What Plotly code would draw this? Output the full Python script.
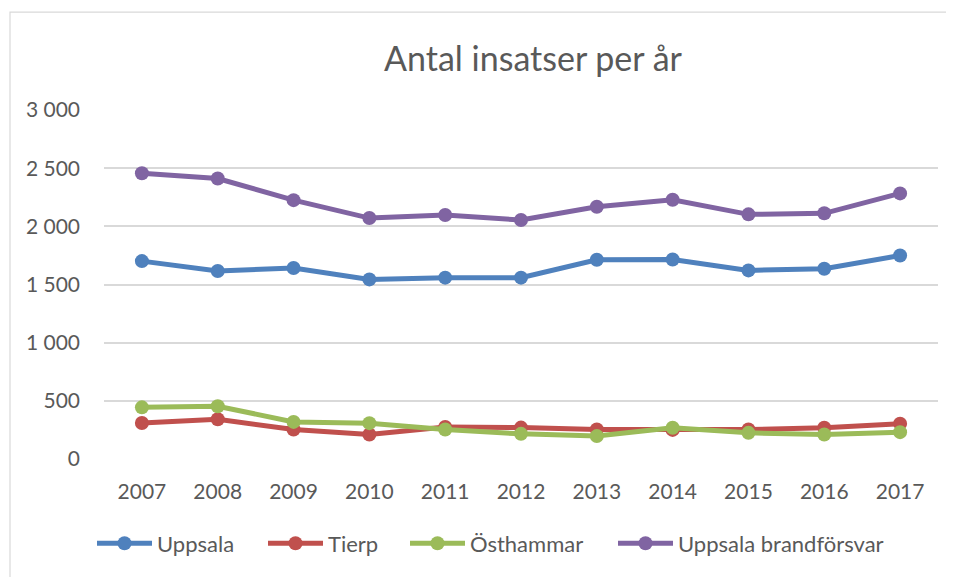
import plotly.graph_objects as go

years = ["2007", "2008", "2009", "2010", "2011", "2012", "2013", "2014", "2015", "2016", "2017"]
uppsala = [1701, 1616, 1642, 1544, 1559, 1559, 1713, 1715, 1621, 1636, 1749]
tierp = [310, 342, 253, 210, 276, 270, 253, 250, 253, 268, 304]
osthammar = [444, 453, 319, 308, 253, 216, 197, 268, 225, 210, 231]
brandforsvar = [2456, 2411, 2225, 2071, 2097, 2054, 2168, 2228, 2103, 2112, 2283]

series_names = ["Uppsala", "Tierp", "Östhammar", "Uppsala brandförsvar"]
series_values = [uppsala, tierp, osthammar, brandforsvar]
colors = ["#4F81BD", "#C0504D", "#9BBB59", "#8064A2"]

ytickvals = [0, 500, 1000, 1500, 2000, 2500, 3000]
yticktext = ["0", "500", "1 000", "1 500", "2 000", "2 500", "3 000"]

FONT = "Lato, Carlito, 'Liberation Sans', sans-serif"
TXT = "#595959"

# screen -> paper helpers (page has an 8px body margin)
PL, PR, PT, PB = 104, 938, 110, 461
def px(x):
    return (x - PL) / (PR - PL)
def py(y):
    return (PB - y) / (PB - PT)

legend_ids = ["legend", "legend2", "legend3", "legend4"]
legend_x = [92, 263, 405, 613]

fig = go.Figure()
for name, vals, col, lid in zip(series_names, series_values, colors, legend_ids):
    fig.add_trace(go.Scatter(
        x=years, y=vals, name=name, mode="lines+markers",
        line=dict(color=col, width=5),
        marker=dict(color=col, size=14),
        legend=lid,
    ))

legend_common = dict(orientation="h", yanchor="middle", xanchor="left",
                     font=dict(size=22, color=TXT, family=FONT),
                     itemwidth=55, bgcolor="rgba(0,0,0,0)", borderwidth=0)

layout_legends = {}
for lid, lx in zip(legend_ids, legend_x):
    layout_legends[lid] = dict(legend_common, x=px(lx), y=py(546))

fig.update_layout(
    width=946, height=569,
    margin=dict(l=PL - 8, r=946 - (PR - 8), t=PT - 8, b=569 - (PB - 8)),
    paper_bgcolor="white", plot_bgcolor="white",
    font=dict(family=FONT, color=TXT, size=21),
    title=dict(text="Antal insatser per år", x=525 / 946, xanchor="center",
               y=1 - 51 / 569, yanchor="middle",
               font=dict(size=34, color=TXT, family=FONT)),
    showlegend=True,
    xaxis=dict(type="category", range=[-0.5, 10.5], showgrid=False, showline=False,
               zeroline=False, ticks="", tickfont=dict(size=21, color=TXT),
               ticklabelstandoff=18),
    yaxis=dict(range=[0, 3000], tickvals=ytickvals, ticktext=yticktext,
               showgrid=True, gridcolor="#D9D9D9", gridwidth=1.5,
               zeroline=False, showline=False, ticks="",
               tickfont=dict(size=21, color=TXT),
               ticklabelstandoff=23),
    shapes=[dict(type="rect", xref="paper", yref="paper",
                 x0=px(10), x1=px(970), y0=py(600), y1=py(11.5),
                 line=dict(color="#D9D9D9", width=1.2), fillcolor="rgba(0,0,0,0)",
                 layer="below")],
    **layout_legends,
)

fig.write_html("out.html")
